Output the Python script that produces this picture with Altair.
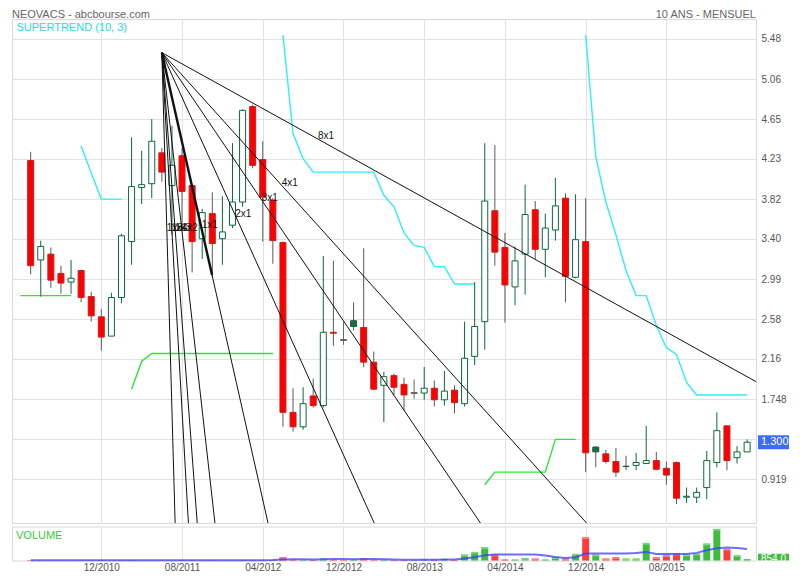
import altair as alt
import pandas as pd

# month index 0 = 05/2010 ... 71 = 04/2016
months = list(range(72))
opens = [4.22, 3.19, 3.25, 3.05, 2.96, 3.08, 2.81, 2.60, 2.40, 2.80,
         3.38, 3.94, 3.98, 4.30, 3.96, 4.27, 3.96, 3.41, 3.67, 3.41,
         3.55, 3.79, 4.78, 4.23, 3.81, 3.37, 1.61, 1.46, 1.78, 1.68,
         2.44, 2.36, 2.56, 2.49, 2.13, 1.89, 1.99, 1.90, 1.81, 1.81,
         1.86, 1.74, 1.84, 1.70, 2.19, 2.55, 3.70, 3.32, 2.91, 3.25,
         3.71, 3.30, 3.50, 3.83, 3.01, 3.38, 1.25, 1.18, 1.10, 1.052,
         1.06, 1.08, 1.11, 1.03, 1.09, 0.73, 0.73, 0.83, 1.09, 1.47,
         1.14, 1.20]
highs = [4.31, 3.39, 3.32, 3.13, 3.19, 3.08, 2.86, 2.68, 2.85, 3.46,
         4.46, 4.32, 4.65, 4.35, 4.58, 4.35, 3.98, 3.72, 3.89, 3.85,
         4.40, 4.75, 4.80, 4.42, 3.83, 3.38, 1.86, 1.87, 1.96, 3.23,
         3.18, 2.55, 2.75, 3.31, 2.24, 2.03, 2.01, 1.97, 1.95, 2.08,
         1.94, 2.04, 1.89, 2.55, 2.96, 4.40, 4.38, 3.47, 3.33, 3.97,
         3.80, 3.67, 4.04, 3.88, 3.87, 3.83, 1.26, 1.22, 1.24, 1.16,
         1.19, 1.47, 1.20, 1.10, 1.10, 0.83, 0.83, 1.21, 1.61, 1.47,
         1.26, 1.33]
lows = [3.04, 2.81, 2.90, 2.84, 2.84, 2.75, 2.55, 2.25, 2.40, 2.74,
        3.14, 3.77, 3.83, 4.00, 3.45, 3.50, 3.06, 3.20, 3.01, 3.14,
        3.52, 3.74, 4.14, 3.38, 3.15, 1.46, 1.41, 1.43, 1.66, 1.66,
        2.30, 2.31, 2.46, 2.08, 1.84, 1.51, 1.79, 1.63, 1.75, 1.74,
        1.67, 1.68, 1.60, 1.67, 2.10, 2.26, 3.13, 2.54, 2.72, 2.83,
        3.20, 3.01, 3.39, 2.75, 3.00, 0.99, 1.04, 1.08, 0.94, 1.01,
        1.01, 1.08, 1.01, 0.86, 0.66, 0.67, 0.67, 0.71, 1.04, 1.01,
        1.08, 1.20]
closes = [3.13, 3.33, 2.98, 2.95, 3.00, 2.80, 2.61, 2.39, 2.80, 3.44,
          3.95, 3.97, 4.42, 4.10, 4.17, 3.90, 3.38, 3.68, 3.36, 3.48,
          3.79, 4.74, 4.17, 3.84, 3.39, 1.61, 1.46, 1.70, 1.68, 2.44,
          2.43, 2.36, 2.50, 2.13, 1.85, 1.98, 1.87, 1.79, 1.81, 1.86,
          1.74, 1.83, 1.71, 2.17, 2.50, 3.80, 3.27, 2.93, 3.18, 3.66,
          3.30, 3.52, 3.75, 3.02, 3.40, 1.19, 1.20, 1.10, 0.99, 1.048,
          1.09, 1.11, 1.02, 0.96, 0.72, 0.74, 0.78, 1.11, 1.42, 1.11,
          1.20, 1.30]
volumes = [300, 200, 150, 120, 150, 200, 150, 250, 180, 220,
           350, 200, 250, 200, 180, 300, 250, 150, 200, 150,
           200, 300, 250, 200, 250, 2150, 520, 400, 400, 1300,
           520, 330, 520, 1300, 520, 520, 330, 330, 330, 650,
           520, 1000, 400, 3900, 5600, 8650, 3900, 650, 650, 1700,
           1300, 650, 2150, 1300, 4300, 15150, 3900, 1300, 2150, 1300,
           1300, 11450, 2150, 3450, 4550, 3900, 4550, 11050, 20550, 7550,
           3450, 854]
volume_ma = [200, 200, 200, 200, 200, 200, 200, 200, 200, 200,
             200, 200, 200, 200, 200, 200, 200, 200, 200, 200,
             200, 200, 200, 200, 250, 650, 780, 780, 650, 850,
             975, 975, 850, 975, 975, 780, 650, 520, 520, 520,
             520, 585, 585, 1235, 2150, 3450, 3900, 3900, 3900, 3900,
             3900, 3250, 2350, 1700, 2150, 4550, 4550, 4550, 4550, 4550,
             4950, 5600, 4300, 4300, 4300, 4300, 4950, 6700, 8000, 8450,
             8200, 7550]

# Supertrend (10, 3) segments
st_up_1_i = [-1, 0, 1, 2, 3, 4]
st_up_1_v = [2.82, 2.82, 2.82, 2.82, 2.82, 2.82]
st_dn_1_i = [5, 6, 7, 8, 9]
st_dn_1_v = [4.37, 4.09, 3.82, 3.82, 3.82]
st_up_2_i = list(range(10, 25))
st_up_2_v = [1.85, 2.14, 2.22, 2.22, 2.22, 2.22, 2.22, 2.22, 2.22, 2.22,
             2.22, 2.22, 2.22, 2.22, 2.22]
st_dn_2_i = list(range(25, 45))
st_dn_2_v = [5.52, 4.50, 4.24, 4.10, 4.10, 4.10, 4.10, 4.10, 4.10, 4.10,
             3.86, 3.74, 3.47, 3.34, 3.32, 3.12, 3.12, 2.94, 2.94, 2.94]
st_up_3_i = list(range(45, 55))
st_up_3_v = [0.86, 0.99, 0.99, 0.99, 0.99, 0.99, 0.99, 1.33, 1.33, 1.33]
st_dn_3_i = list(range(55, 72))
st_dn_3_v = [5.52, 4.26, 3.79, 3.45, 3.08, 2.82, 2.82, 2.51, 2.28, 2.21,
             1.92, 1.79, 1.79, 1.79, 1.79, 1.79, 1.79]

# Gann fan
gann_apex_i = 13.0
gann_apex_p = 5.338
gann_unit = 0.4633          # price per month for the 1x1 line
gann_names = ["8x1", "4x1", "3x1", "2x1", "1x1", "1x2", "1x3", "1x4", "1x8"]
gann_mult = [1 / 8, 1 / 4, 1 / 3, 1 / 2, 1, 2, 3, 4, 8]
gann_label_i = [28.47, 24.88, 22.89, 20.28, 16.95, 14.95, 14.29, 13.96, 13.48]
gann_label_p = [4.471, 3.990, 3.829, 3.666, 3.555, 3.521, 3.521, 3.521, 3.521]
gann_bold_end_i = 17.97

x_tick_values = [7, 15, 23, 31, 39, 47, 55, 63]
x_tick_labels = ["12/2010", "08/2011", "04/2012", "12/2012",
                 "08/2013", "04/2014", "12/2014", "08/2015"]
y_tick_values = [0.919, 1.3336, 1.748, 2.163, 2.577, 2.992, 3.407, 3.821,
                 4.236, 4.650, 5.065, 5.480]
y_tick_labels = ["0.919", "", "1.748", "2.16", "2.58", "2.99", "3.40", "3.82",
                 "4.23", "4.65", "5.06", "5.48"]
last_price = 1.300
last_volume = 854

# ---------------------------------------------------------------- tables
W, H_MAIN, H_VOL = 744, 504, 34
X_DOMAIN = [-1.85, 71.88]
Y_DOMAIN = [0.463, 5.687]
V_DOMAIN = [0, 22100]
FONT = "Liberation Sans"
BOX_R = W + 33

rows = []
for k in months:
    o, h, l, c = opens[k], highs[k], lows[k], closes[k]
    prev = closes[k - 1] if k > 0 else None
    if c > o:
        kind = "up"
    elif c == o:
        kind = "doji"
    elif prev is not None and c > prev:
        kind = "downgreen"
    else:
        kind = "down"
    top, bot = max(o, c), min(o, c)
    if top == bot:
        top, bot = top + 0.005, bot - 0.005
    vcol = "g" if (prev is not None and c >= prev) else "r"
    rows.append(dict(i=k, o=o, h=h, l=l, c=c, top=top, bot=bot, kind=kind,
                     vol=volumes[k], ma=volume_ma[k], vcol=vcol))
candles = pd.DataFrame(rows)

st_rows = []
for seg, (xs_, vs_, d) in enumerate([(st_up_1_i, st_up_1_v, "up"), (st_dn_1_i, st_dn_1_v, "dn"),
                                     (st_up_2_i, st_up_2_v, "up"), (st_dn_2_i, st_dn_2_v, "dn"),
                                     (st_up_3_i, st_up_3_v, "up"), (st_dn_3_i, st_dn_3_v, "dn")]):
    for a, b in zip(xs_, vs_):
        st_rows.append(dict(i=a, p=b, seg=seg, d=d))
st = pd.DataFrame(st_rows)

g_rows = []
for name, m in zip(gann_names, gann_mult):
    rate = gann_unit * m
    i_end = min(X_DOMAIN[1], gann_apex_i + (gann_apex_p - Y_DOMAIN[0]) / rate)
    g_rows.append(dict(i=gann_apex_i, p=gann_apex_p, name=name))
    g_rows.append(dict(i=i_end, p=gann_apex_p - rate * (i_end - gann_apex_i), name=name))
gann = pd.DataFrame(g_rows)
gann_bold = pd.DataFrame([
    dict(i=gann_apex_i, p=gann_apex_p),
    dict(i=gann_bold_end_i, p=gann_apex_p - gann_unit * (gann_bold_end_i - gann_apex_i)),
])
gann_labels = pd.DataFrame(dict(i=gann_label_i, p=gann_label_p, name=gann_names))

# ---------------------------------------------------------------- encodings
xs = alt.Scale(domain=X_DOMAIN, nice=False, zero=False, padding=0)
ys = alt.Scale(domain=Y_DOMAIN, nice=False, zero=False, padding=0)
vs = alt.Scale(domain=V_DOMAIN, nice=False, zero=False, padding=0)

x_expr = "[" + ",".join(f"'{s}'" for s in x_tick_labels) + "][indexof([" + \
    ",".join(str(v) for v in x_tick_values) + "], datum.value)]"
y_expr = "[" + ",".join(f"'{s}'" for s in y_tick_labels) + "][indexof([" + \
    ",".join(str(v) for v in y_tick_values) + "], datum.value)]"

x_axis_main = alt.Axis(values=x_tick_values, grid=True, labels=False, ticks=False,
                       domain=False, title=None)
x_axis_vol = alt.Axis(values=x_tick_values, grid=True, labels=True, ticks=False,
                      domain=False, title=None, labelExpr=x_expr, labelPadding=2,
                      labelFontSize=10, labelColor="#555", labelFont=FONT)
y_axis_main = alt.Axis(orient="right", values=y_tick_values, grid=True, ticks=False,
                       domain=False, title=None, labelExpr=y_expr, labelPadding=5,
                       labelFontSize=10, labelColor="#555", labelFont=FONT)


def X(f):
    return alt.X(f"{f}:Q", scale=xs, axis=x_axis_main)


def Y(f):
    return alt.Y(f"{f}:Q", scale=ys, axis=y_axis_main)


kinds = ["up", "down", "downgreen", "doji"]
body_fill = alt.Scale(domain=kinds, range=["#ffffff", "#ff0000", "#1d6b46", "#666666"])
body_stroke = alt.Scale(domain=kinds, range=["#0b6a3c", "#c42020", "#1d5e40", "#666666"])
wick_col = alt.Scale(domain=kinds, range=["#0b6a3c", "#5a5a5a", "#5a5a5a", "#666666"])

base = alt.Chart(candles)

st_up = alt.Chart(st).transform_filter("datum.d == 'up'").mark_line(
    color="#2ee62e", strokeWidth=1.4).encode(x=X("i"), y=Y("p"), detail="seg:N")
st_dn = alt.Chart(st).transform_filter("datum.d == 'dn'").mark_line(
    color="#2ef0f5", strokeWidth=1.4, clip=True).encode(x=X("i"), y=Y("p"), detail="seg:N")

wicks = base.mark_rule(strokeWidth=1).encode(
    x=X("i"), y=Y("l"), y2="h:Q",
    color=alt.Color("kind:N", scale=wick_col, legend=None))
bodies = base.mark_bar(size=6, strokeWidth=1).encode(
    x=X("i"), y=Y("top"), y2="bot:Q",
    fill=alt.Fill("kind:N", scale=body_fill, legend=None),
    stroke=alt.Stroke("kind:N", scale=body_stroke, legend=None))

gann_lines = alt.Chart(gann).mark_line(color="#111111", strokeWidth=1, clip=True).encode(
    x=X("i"), y=Y("p"), detail="name:N")
gann_thick = alt.Chart(gann_bold).mark_line(color="#111111", strokeWidth=2.4).encode(
    x=X("i"), y=Y("p"))
gann_text = alt.Chart(gann_labels).mark_text(
    align="left", baseline="middle", fontSize=10, font=FONT, color="#111111").encode(
    x=X("i"), y=Y("p"), text="name:N")

one = pd.DataFrame({"t": ["SUPERTREND (10, 3)"]})
st_label = alt.Chart(one).mark_text(
    align="left", baseline="middle", fontSize=11, font=FONT, color="#22dde8").encode(
    x=alt.value(4.5), y=alt.value(8.5), text="t:N")
head_l = alt.Chart(pd.DataFrame({"t": ["NEOVACS - abcbourse.com"]})).mark_text(
    align="left", baseline="middle", fontSize=11, font=FONT, color="#666666").encode(
    x=alt.value(0), y=alt.value(-4.2), text="t:N")
head_r = alt.Chart(pd.DataFrame({"t": ["10 ANS - MENSUEL"]})).mark_text(
    align="right", baseline="middle", fontSize=11, font=FONT, color="#666666").encode(
    x=alt.value(W), y=alt.value(-4.2), text="t:N")

last_df = pd.DataFrame({"p": [last_price], "t": [f"{last_price:.3f}"]})
price_box = alt.Chart(last_df).mark_rect(color="#3b6cff", yOffset=-7, y2Offset=7).encode(
    x=alt.value(W + 2), x2=alt.value(BOX_R), y=Y("p"), y2="p:Q")
price_txt = alt.Chart(last_df).mark_text(
    align="left", baseline="middle", fontSize=11, font=FONT, color="white").encode(
    x=alt.value(W + 5), y=Y("p"), text="t:N")

main = alt.layer(st_up, st_dn, wicks, bodies, gann_lines, gann_thick, gann_text,
                 st_label, head_l, head_r, price_box, price_txt).properties(
    width=W, height=H_MAIN)

# ---------------------------------------------------------------- volume
XV = alt.X("i:Q", scale=xs, axis=x_axis_vol)
vol_bars = alt.Chart(candles).mark_bar(size=7).encode(
    x=XV, y=alt.Y("vol:Q", scale=vs, axis=None),
    color=alt.Color("vcol:N", scale=alt.Scale(domain=["g", "r"], range=["#3dbd3d", "#ff3b3b"]),
                    legend=None))
vol_caps = alt.Chart(candles).transform_filter("datum.vol > 1000").mark_tick(
    orient="horizontal", thickness=1.5, size=7, yOffset=1).encode(
    x=XV, y=alt.Y("vol:Q", scale=vs, axis=None),
    color=alt.Color("vcol:N", scale=alt.Scale(domain=["g", "r"], range=["#a3e0a3", "#ffa3a3"]),
                    legend=None))
vol_ma = alt.Chart(candles).mark_line(color="#3c3cff", strokeWidth=2, opacity=0.75).encode(
    x=XV, y=alt.Y("ma:Q", scale=vs, axis=None))
vol_label = alt.Chart(pd.DataFrame({"t": ["VOLUME"]})).mark_text(
    align="left", baseline="middle", fontSize=11, font=FONT, color="#33cc33").encode(
    x=alt.value(4), y=alt.value(9), text="t:N")
lv = pd.DataFrame({"v": [last_volume], "t": [f"{last_volume:.1f}"]})
vol_box = alt.Chart(lv).mark_rect(color="#3dbd3d", yOffset=-5.4).encode(
    x=alt.value(W + 2), x2=alt.value(BOX_R), y=alt.Y("v:Q", scale=vs, axis=None),
    y2=alt.value(H_VOL))
vol_txt = alt.Chart(lv).mark_text(
    align="left", baseline="middle", fontSize=10, font=FONT, color="white").encode(
    x=alt.value(W + 5), y=alt.Y("v:Q", scale=vs, axis=None), text="t:N")

vol = alt.layer(vol_bars, vol_caps, vol_ma, vol_label, vol_box, vol_txt).resolve_scale(
    color="independent").properties(width=W, height=H_VOL)

chart = alt.vconcat(main, vol, spacing=3.5, bounds="flush").resolve_scale(
    color="independent", fill="independent", stroke="independent"
).properties(
    padding={"left": 3, "top": 0, "right": 0, "bottom": 0}
).configure_view(stroke="#d9d9d9").configure_axis(gridColor="#e2e2e2")

chart.save("out.html", embed_options={"renderer": "svg", "actions": False})
